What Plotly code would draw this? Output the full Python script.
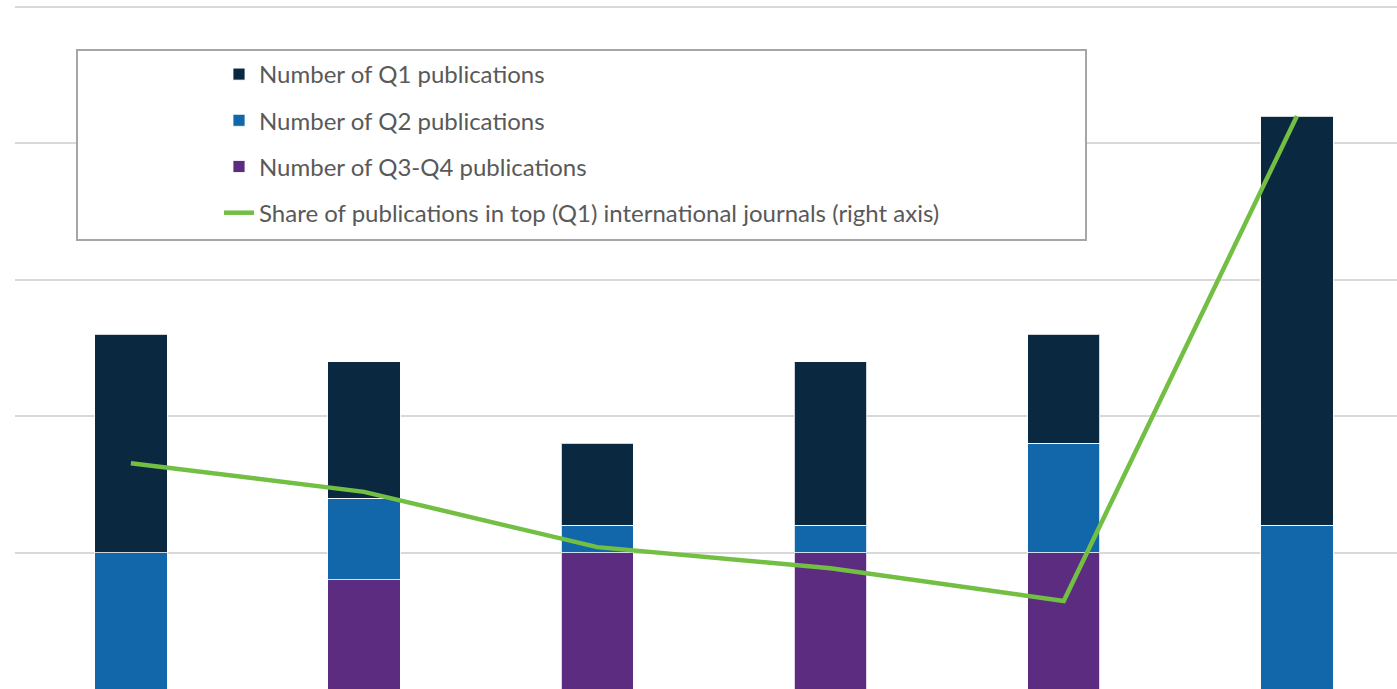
import plotly.graph_objects as go

categories = ["Group 1", "Group 2", "Group 3", "Group 4", "Group 5", "Group 6"]
q1 = [8, 5, 3, 6, 4, 15]
q2 = [5, 3, 1, 1, 4, 6]
q34 = [0, 4, 5, 5, 5, 0]
share_q1 = [0.331, 0.289, 0.208, 0.177, 0.129, 0.840]

C_Q1 = "#0B2841"
C_Q2 = "#1167AA"
C_Q34 = "#5B2C7F"
C_LINE = "#72BF44"

fig = go.Figure()
bar_line = dict(color="rgba(255,255,255,0.8)", width=1)
fig.add_trace(go.Bar(x=categories, y=q34, name="Number of Q3-Q4 publications",
                     marker=dict(color=C_Q34, line=bar_line), width=0.31,
                     legendrank=3, legendgroup="c"))
fig.add_trace(go.Bar(x=categories, y=q2, name="Number of Q2 publications",
                     marker=dict(color=C_Q2, line=bar_line), width=0.31,
                     legendrank=2, legendgroup="b"))
fig.add_trace(go.Bar(x=categories, y=q1, name="Number of Q1 publications",
                     marker=dict(color=C_Q1, line=bar_line), width=0.31,
                     legendrank=1, legendgroup="a"))
fig.add_trace(go.Scatter(x=categories, y=share_q1, yaxis="y2", mode="lines",
                         name="Share of publications in top (Q1) international journals (right axis)",
                         line=dict(color=C_LINE, width=4.5), legendrank=4, legendgroup="d"))

PW, PH, L, T = 1382, 684, 15, 5

fig.update_layout(
    width=1397, height=689,
    margin=dict(l=L, r=0, t=T, b=0, autoexpand=False),
    paper_bgcolor="white", plot_bgcolor="white",
    barmode="stack",
    font=dict(family="Lato", color="#595959", size=24),
    xaxis=dict(range=[-0.497, 5.429], showticklabels=False, showgrid=False,
               zeroline=False, showline=False, ticks=""),
    yaxis=dict(range=[0, 25.07], tickvals=[0, 5, 10, 15, 20, 25], showticklabels=False,
               showgrid=True, gridcolor="#D9D9D9", gridwidth=2, zeroline=False,
               showline=False, ticks=""),
    yaxis2=dict(range=[0, 1.0028], overlaying="y", side="right", showticklabels=False,
                showgrid=False, zeroline=False, showline=False, ticks=""),
    showlegend=True,
    legend=dict(xref="paper", yref="paper", x=(219-L)/PW, y=1-(52-T)/PH,
                xanchor="left", yanchor="top", bgcolor="rgba(0,0,0,0)",
                traceorder="grouped", tracegroupgap=12,
                font=dict(family="Lato", size=24, color="#595959")),
    shapes=[dict(type="rect", xref="paper", yref="paper",
                 x0=(77-L)/PW, x1=(1086-L)/PW,
                 y0=1-(240-T)/PH, y1=1-(50-T)/PH,
                 line=dict(color="#A6A6A6", width=2), fillcolor="white", layer="above")],
)
fig.write_html("out.html", config={"displayModeBar": False},
               post_script="document.body.style.margin='0';document.body.style.overflow='hidden';")
